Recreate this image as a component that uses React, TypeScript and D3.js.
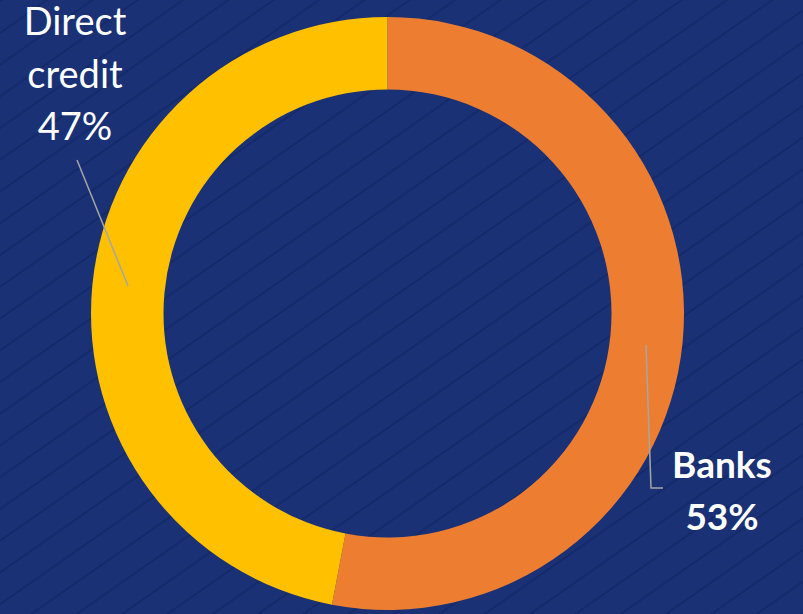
import React from "react";
import * as d3 from "d3";

const categories = ["Banks", "Direct credit"];
const values = [53, 47];
const colors = ["#ED7D31", "#FFC000"];

const W = 803, H = 614;
const cx = 387.5, cy = 313.5, outerR = 296.5, innerR = 224;

export default function App() {
  const pie = d3.pie<number>().sort(null).startAngle(0).endAngle(2 * Math.PI)(values);
  const arc = d3.arc<d3.PieArcDatum<number>>().innerRadius(innerR).outerRadius(outerR);
  const font = "Lato, 'Open Sans', sans-serif";
  return (
    <svg width={W} height={H} style={{ position: "absolute", left: 0, top: 0, display: "block" }}>
      <defs>
        <pattern id="stripes" patternUnits="userSpaceOnUse" width="26" height="26" patternTransform="rotate(-35)">
          <rect width="26" height="26" fill="#1a3175" />
          <line x1="0" y1="1" x2="26" y2="1" stroke="#142a6a" strokeWidth="2" />
        </pattern>
      </defs>
      <rect width={W} height={H} fill="url(#stripes)" />
      <g transform={`translate(${cx},${cy})`}>
        {pie.map((d, i) => (
          <path key={categories[i]} d={arc(d) || ""} fill={colors[i]} />
        ))}
      </g>
      <polyline points="77,160 128,286" fill="none" stroke="#a6a6a6" strokeWidth="1.5" />
      <polyline points="646,345 651,488 663,488" fill="none" stroke="#a6a6a6" strokeWidth="1.5" />
      <g fill="#ffffff" fontFamily={font} fontSize="38" textAnchor="middle">
        <text x="75" y="35">Direct</text>
        <text x="75" y="88">credit</text>
        <text x="75" y="140">{values[1]}%</text>
      </g>
      <g fill="#ffffff" fontFamily={font} fontSize="37" fontWeight="bold" textAnchor="middle">
        <text x="722" y="478">{categories[0]}</text>
        <text x="722" y="530">{values[0]}%</text>
      </g>
    </svg>
  );
}
